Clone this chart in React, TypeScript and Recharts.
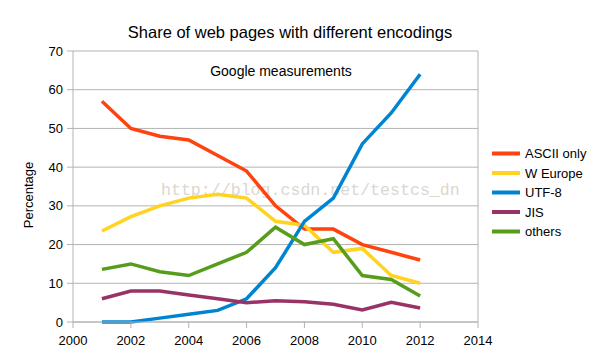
import React from "react";
import { CartesianGrid, Line, LineChart, ReferenceLine, XAxis, YAxis } from "recharts";

const years = [2001, 2002, 2003, 2004, 2005, 2006, 2007, 2008, 2009, 2010, 2011, 2012];
const ascii = [57, 50, 48, 47, 43, 39, 30, 24, 24, 20, 18, 16];
const wEurope = [23.5, 27.2, 30, 32, 33, 32, 26, 25, 18, 19, 12, 10];
const utf8 = [0, 0, 1, 2, 3, 6, 14, 26, 32, 46, 54, 64];
const jis = [6, 8, 8, 7, 6, 5, 5.5, 5.2, 4.6, 3.1, 5.1, 3.6];
const others = [13.6, 15, 13, 12, 15, 18, 24.5, 20, 21.5, 12, 11, 6.7];

const xTicks = [2000, 2002, 2004, 2006, 2008, 2010, 2012, 2014];
const yTicks = [0, 10, 20, 30, 40, 50, 60, 70];

const series = [
  { key: "ascii", name: "ASCII only", color: "#ff420e", values: ascii },
  { key: "wEurope", name: "W Europe", color: "#ffd320", values: wEurope },
  { key: "utf8", name: "UTF-8", color: "#0084d1", values: utf8 },
  { key: "jis", name: "JIS", color: "#993366", values: jis },
  { key: "others", name: "others", color: "#579d1c", values: others },
];

const data = years.map((year, i) => {
  const row: any = { year };
  series.forEach((s) => {
    row[s.key] = s.values[i];
  });
  return row;
});

const font = "'Liberation Sans', Arial, sans-serif";
const gridColor = "#b3b3b3";

const App: React.FC = () => {
  return (
    <div
      style={{
        position: "relative",
        width: 602,
        height: 356,
        margin: -8,
        background: "#fff",
        fontFamily: font,
      }}
    >
      {/* texts and legend, under the chart so lines sit over the watermark */}
      <svg width={602} height={356} style={{ position: "absolute", left: 0, top: 0 }}>
        <text x={290} y={38} textAnchor="middle" fontSize={16.5} fontFamily={font} fill="#000">
          Share of web pages with different encodings
        </text>
        <text x={281} y={76} textAnchor="middle" fontSize={14} fontFamily={font} fill="#000">
          Google measurements
        </text>
        <text
          x={28}
          y={195}
          transform="rotate(-90, 28, 195)"
          textAnchor="middle"
          dominantBaseline="central"
          fontSize={13}
          fontFamily={font}
          fill="#000"
        >
          Percentage
        </text>
        <text x={161} y={195} fontSize={16.6} fontFamily="'Liberation Mono', monospace" fill="#dcd7d0">
          http://blog.csdn.net/testcs_dn
        </text>
        {series.map((s, i) => {
          const y = 153.5 + i * 19.5;
          return (
            <g key={s.key}>
              <line x1={492} x2={520} y1={y} y2={y} stroke={s.color} strokeWidth={4} />
              <text x={525} y={y} dominantBaseline="central" fontSize={13} fontFamily={font} fill="#000">
                {s.name}
              </text>
            </g>
          );
        })}
      </svg>
      <div style={{ position: "absolute", left: 0, top: 0 }}>
        <LineChart width={602} height={356} data={data} margin={{ top: 51, right: 124, bottom: 4, left: 28 }}>
          <CartesianGrid vertical={false} stroke={gridColor} strokeWidth={1} />
          <XAxis
            dataKey="year"
            type="number"
            domain={[2000, 2014]}
            ticks={xTicks}
            height={30}
            stroke={gridColor}
            tickSize={6}
            tickMargin={8}
            tick={{ fill: "#000", fontSize: 13, fontFamily: font }}
            interval={0}
          />
          <YAxis
            domain={[0, 70]}
            ticks={yTicks}
            width={45}
            stroke={gridColor}
            tickSize={6}
            tickMargin={4}
            tick={{ fill: "#000", fontSize: 13, fontFamily: font }}
            interval={0}
          />
          <ReferenceLine x={2014} stroke={gridColor} />
          {series.map((s) => (
            <Line
              key={s.key}
              dataKey={s.key}
              name={s.name}
              stroke={s.color}
              strokeWidth={3.5}
              dot={false}
              activeDot={false}
              type="linear"
              isAnimationActive={false}
            />
          ))}
        </LineChart>
      </div>
      <div
        style={{
          position: "absolute",
          left: 0,
          top: 0,
          width: 602,
          height: 356,
          boxSizing: "border-box",
          borderTop: "1px solid #000",
          borderRight: "2px solid #000",
          borderBottom: "2px solid #000",
          pointerEvents: "none",
        }}
      />
    </div>
  );
};

export default App;
